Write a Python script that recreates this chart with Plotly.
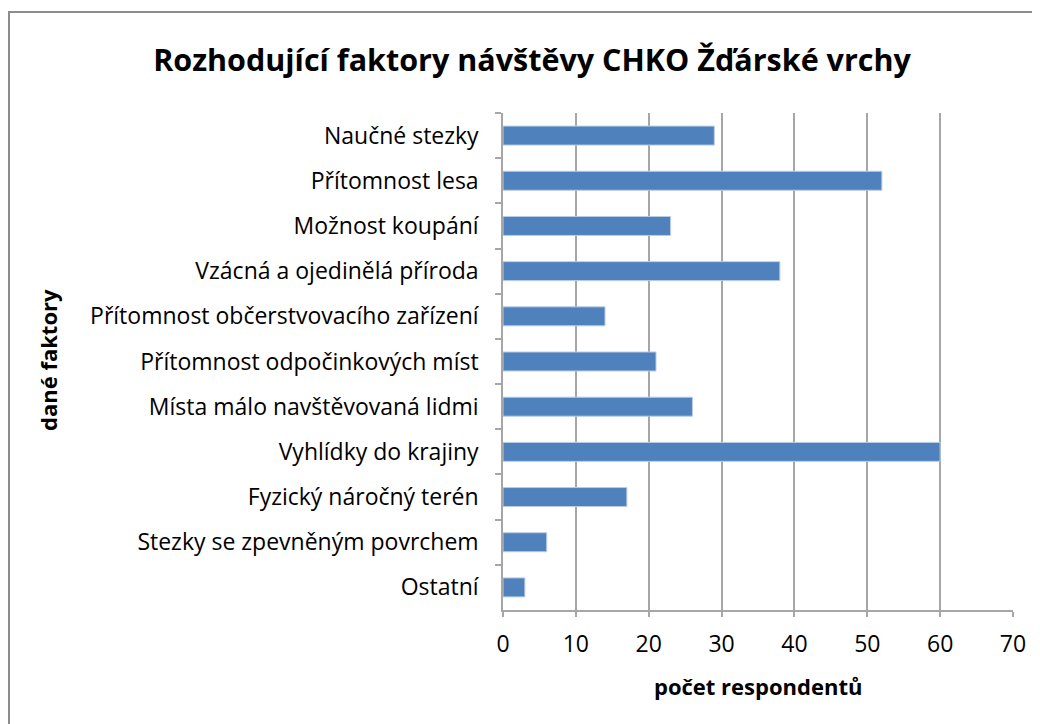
import plotly.graph_objects as go

factors = [
    "Naučné stezky",
    "Přítomnost lesa",
    "Možnost koupání",
    "Vzácná a ojedinělá příroda",
    "Přítomnost občerstvovacího zařízení",
    "Přítomnost odpočinkových míst",
    "Místa málo navštěvovaná lidmi",
    "Vyhlídky do krajiny",
    "Fyzický náročný terén",
    "Stezky se zpevněným povrchem",
    "Ostatní",
]
respondents = [29, 52, 23, 38, 14, 21, 26, 60, 17, 6, 3]
x_ticks = [0, 10, 20, 30, 40, 50, 60, 70]

FONT = "Open Sans"
GRID = "#A6A6A6"

# plot area inside the figure (page adds an 8px body margin)
L, R, T, B = 495, 1005, 105, 602
W, H = R - L, B - T

fig = go.Figure(
    go.Bar(
        x=respondents,
        y=factors,
        orientation="h",
        marker=dict(color="#4F81BD", line=dict(color="#B9CDE5", width=1)),
        width=0.42,
    )
)

fig.update_layout(
    width=1040,
    height=724,
    margin=dict(l=L, r=1040 - R, t=T, b=724 - B, autoexpand=False),
    plot_bgcolor="white",
    paper_bgcolor="white",
    showlegend=False,
    font=dict(family=FONT, size=23, color="black"),
    title=dict(
        text="<b>Rozhodující faktory návštěvy CHKO Žďárské vrchy</b>",
        x=524 / 1040,
        xanchor="center",
        y=1 - 52 / 724,
        yanchor="middle",
        font=dict(family=FONT, size=30.5, color="black"),
    ),
)

fig.update_xaxes(
    range=[0, 70],
    tickvals=x_ticks,
    showgrid=True,
    gridcolor=GRID,
    gridwidth=1.5,
    zeroline=False,
    showline=True,
    linecolor=GRID,
    linewidth=1.5,
    ticks="outside",
    ticklen=5,
    tickwidth=1.5,
    tickcolor=GRID,
    ticklabelstandoff=8,
    tickfont=dict(size=23),
)

fig.update_yaxes(
    autorange="reversed",
    showline=True,
    linecolor=GRID,
    linewidth=1.5,
    ticks="outside",
    tickson="boundaries",
    ticklen=6,
    tickwidth=1.5,
    tickcolor=GRID,
    showgrid=False,
    ticklabelstandoff=18,
    tickfont=dict(size=23),
)

fig.add_annotation(
    text="<b>počet respondentů</b>",
    xref="paper", yref="paper",
    x=0.5, y=(B - 678) / H,
    xanchor="center", yanchor="middle",
    showarrow=False,
    font=dict(family=FONT, size=22, color="black"),
)
fig.add_annotation(
    text="<b>dané faktory</b>",
    xref="paper", yref="paper",
    x=(40 - L) / W, y=(B - 352) / H,
    xanchor="center", yanchor="middle",
    textangle=-90,
    showarrow=False,
    font=dict(family=FONT, size=22, color="black"),
)

# outer chart border (Excel chart area)
fig.add_shape(
    type="rect",
    xref="paper",
    yref="paper",
    x0=(1 - L) / W,
    x1=(1060 - L) / W,
    y0=(B - 740) / H,
    y1=(B - 4) / H,
    line=dict(color="#8C8C8C", width=2),
    fillcolor="rgba(0,0,0,0)",
    layer="below",
)

fig.write_html("out.html")
